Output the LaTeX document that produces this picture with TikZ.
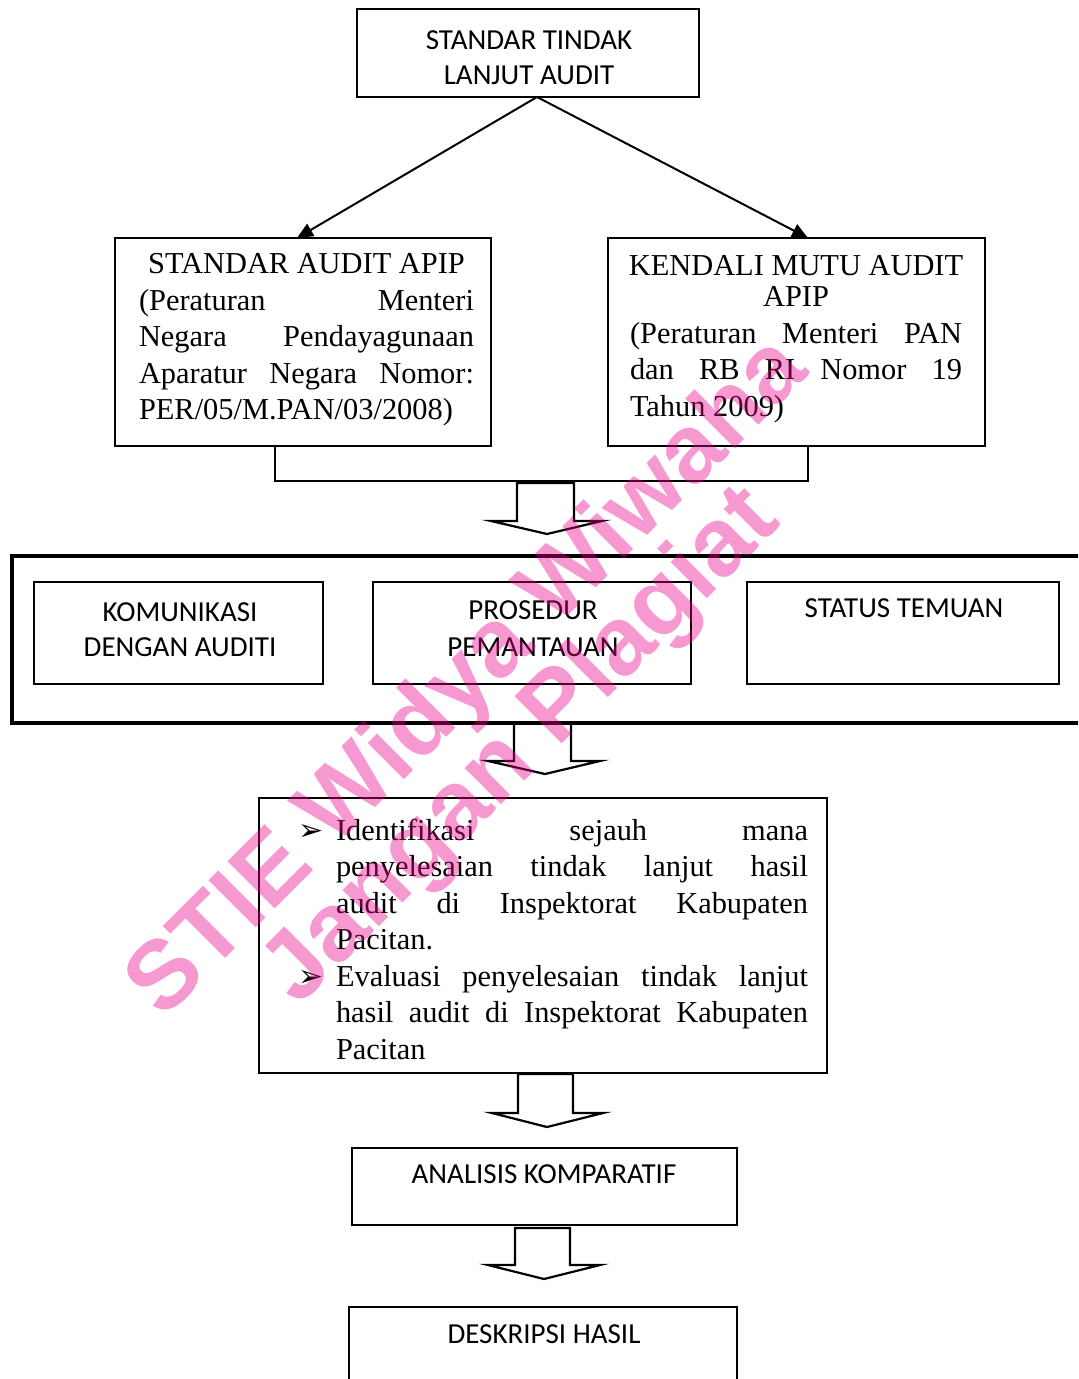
\documentclass[tikz,border=0pt]{standalone}
\usepackage{fontspec}
\setmainfont{Liberation Serif}
\newfontfamily\calfont{Carlito}
\newfontfamily\dejavufont{DejaVu Sans}
\newfontfamily\wmfont{Liberation Sans}
\usetikzlibrary{arrows.meta}
\newcommand{\jl}[2]{\makebox[#1][s]{#2}}
\newcommand{\bul}{\llap{\dejavufont\fontsize{15}{15}\selectfont ➢\hspace{6pt}}}
\begin{document}
\begin{tikzpicture}[x=0.5pt,y=-0.5pt,
  box/.style={draw,line width=1.1pt,inner sep=0pt},
  thickbox/.style={draw,line width=2pt,inner sep=0pt},
  ctext/.style={font=\calfont\fontsize{14.5}{17.5}\selectfont,align=center,inner sep=0pt},
  stext/.style={font=\fontsize{15.2}{18.25}\selectfont,align=left,inner sep=0pt},
  conn/.style={line width=1pt,-{Triangle[length=8pt,width=7pt]}},
  plainline/.style={line width=1pt},
  blockarr/.style={draw,line width=1.1pt,line join=miter},
  wm/.style={font=\wmfont\bfseries\fontsize{48.5}{50}\selectfont,text=magenta,text opacity=0.4,rotate=45,inner sep=0pt}
]
\useasboundingbox (0,0) rectangle (1078,1379);
\clip (0,0) rectangle (1078,1379);

% boxes
\node[box,minimum width=171pt,minimum height=44pt] (top) at (528,53) {};
\node[box,minimum width=188pt,minimum height=104pt] (sa) at (303,342) {};
\node[box,minimum width=188.5pt,minimum height=104pt] (km) at (796.5,342) {};
\node[thickbox,minimum width=541pt,minimum height=83.5pt] (cont) at (553,639.5) {};
\node[box,minimum width=144.5pt,minimum height=51pt] (kom) at (178.5,633) {};
\node[box,minimum width=159pt,minimum height=51pt] (pro) at (532,633) {};
\node[box,minimum width=156pt,minimum height=51pt] (sta) at (903,633) {};
\node[box,minimum width=284pt,minimum height=137.5pt] (mid) at (543,935.5) {};
\node[box,minimum width=192.5pt,minimum height=38.5pt] (ana) at (544.5,1186.5) {};
\node[box,minimum width=194pt,minimum height=46.5pt] (des) at (543,1353.5) {};

% texts
\node[ctext] (topT) at (529,57.5) {STANDAR TINDAK\\LANJUT AUDIT};
\node[ctext] (komT) at (180,629.5) {KOMUNIKASI\\DENGAN AUDITI};
\node[ctext] (proT) at (533,628.5) {PROSEDUR\\[1pt]PEMANTAUAN};
\node[ctext] (staT) at (904,608) {STATUS TEMUAN};
\node[ctext] (anaT) at (544,1174) {ANALISIS KOMPARATIF};
\node[ctext] (desT) at (544,1334) {DESKRIPSI HASIL};

\node[stext] (saT) at (306.5,340) {%
\makebox[167.5pt][c]{STANDAR AUDIT APIP}\\
\jl{167.5pt}{(Peraturan \hfill Menteri}\\
\jl{167.5pt}{Negara \hfill Pendayagunaan}\\
\jl{167.5pt}{Aparatur Negara Nomor:}\\
\makebox[167.5pt][l]{PER/05/M.PAN/03/2008)}};

\node[stext] (kmT) at (796,339) {%
\makebox[166pt][c]{KENDALI MUTU AUDIT}\\[-2.5pt]
\makebox[166pt][c]{APIP}\\
\jl{166pt}{(Peraturan Menteri PAN}\\
\jl{166pt}{dan RB RI Nomor 19}\\
\makebox[166pt][l]{Tahun 2009)}};

\node[stext] (midT) at (572,939) {%
\bul\jl{236pt}{Identifikasi sejauh mana}\\
\jl{236pt}{penyelesaian tindak lanjut hasil}\\
\jl{236pt}{audit di Inspektorat Kabupaten}\\
\makebox[236pt][l]{Pacitan.}\\
\bul\jl{236pt}{Evaluasi penyelesaian tindak lanjut}\\
\jl{236pt}{hasil audit di Inspektorat Kabupaten}\\
\makebox[236pt][l]{Pacitan}};

% connectors from top box
\coordinate (apex) at (537,97);
\coordinate (saIn) at (297,238);
\coordinate (kmIn) at (808,238);
\draw[conn] (apex) -- (saIn);
\draw[conn] (apex) -- (kmIn);

% bracket joining the two boxes
\coordinate (brL) at (275,481);
\coordinate (brR) at (808,481);
\draw[plainline] (sa.south -| brL) -- (brL) -- (brR) -- (km.south -| brR);

% block arrows
\draw[blockarr] (517,483) -- (517,521) -- (491,521) -- (547,534) -- (602,521) -- (574,521) -- (574,483) -- cycle;
\draw[blockarr] (514,723) -- (514,761) -- (488,761) -- (545,774) -- (600,761) -- (571,761) -- (571,723) -- cycle;
\draw[blockarr] (518,1074) -- (518,1113) -- (492,1113) -- (547,1127) -- (603,1113) -- (573,1113) -- (573,1074) -- cycle;
\draw[blockarr] (515,1228) -- (515,1265) -- (488,1265) -- (544,1279) -- (600,1265) -- (570,1265) -- (570,1228) -- cycle;

% watermark
\node[wm] (wm1) at (469,679) {STIE Widya Wiwaha};
\node[wm] (wm2) at (523,748) {Jangan Plagiat};
\end{tikzpicture}
\end{document}
